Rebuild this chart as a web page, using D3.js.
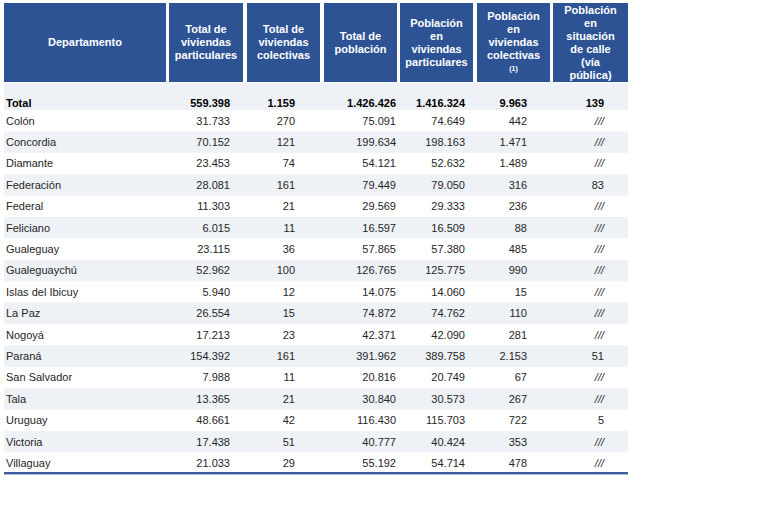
<!DOCTYPE html>
<html><head><meta charset="utf-8">
<script src="https://cdn.jsdelivr.net/npm/d3@7"></script>
<style>
html,body{margin:0;padding:0;background:#fff;}
svg{display:block;font-family:"Liberation Sans",Arial,sans-serif;}
</style></head>
<body>
<svg id="c" width="768" height="512"></svg>
<script>
const departamentos = ["Colón","Concordia","Diamante","Federación","Federal","Feliciano","Gualeguay","Gualeguaychú","Islas del Ibicuy","La Paz","Nogoyá","Paraná","San Salvador","Tala","Uruguay","Victoria","Villaguay"];
const viviendasParticulares = [31733,70152,23453,28081,11303,6015,23115,52962,5940,26554,17213,154392,7988,13365,48661,17438,21033];
const viviendasColectivas = [270,121,74,161,21,11,36,100,12,15,23,161,11,21,42,51,29];
const totalPoblacion = [75091,199634,54121,79449,29569,16597,57865,126765,14075,74872,42371,391962,20816,30840,116430,40777,55192];
const poblacionParticulares = [74649,198163,52632,79050,29333,16509,57380,125775,14060,74762,42090,389758,20749,30573,115703,40424,54714];
const poblacionColectivas = [442,1471,1489,316,236,88,485,990,15,110,281,2153,67,267,722,353,478];
const poblacionCalle = [null,null,null,83,null,null,null,null,null,null,null,51,null,null,5,null,null];
const totales = [559398,1159,1426426,1416324,9963,139];
const encabezados = [
  ["Departamento"],
  ["Total de","viviendas","particulares"],
  ["Total de","viviendas","colectivas"],
  ["Total de","población"],
  ["Población","en","viviendas","particulares"],
  ["Población","en","viviendas","colectivas","(1)"],
  ["Población","en","situación","de calle","(vía","pública)"]
];
const series = [viviendasParticulares,viviendasColectivas,totalPoblacion,poblacionParticulares,poblacionColectivas,poblacionCalle];

const svg = d3.select("#c");
const BLUE = "#2D5395", STRIPE = "#EEF1F6", TXT = "#262626";
const loc = d3.formatLocale({decimal:",", thousands:".", grouping:[3], currency:["$",""]});
const fmt = loc.format(",d");

// column geometry
const colLeft = [4,169,247,324,400,477,553];
const colRight = [166,243,320,397,473,550,628];
const numRight = [230,295,396,465,527,604];
const tableL = 4, tableR = 628;

// row scale
const y = d3.scaleBand().domain(d3.range(departamentos.length)).range([110, 110 + 17*21.4]).padding(0);

// header
const hdr = svg.append("g");
encabezados.forEach((lines, i) => {
  hdr.append("rect").attr("x", colLeft[i]).attr("y", 3).attr("width", colRight[i]-colLeft[i]).attr("height", 79).attr("fill", BLUE);
  const cx = (colLeft[i]+colRight[i])/2;
  const n = lines.length;
  const lh = 13;
  lines.forEach((t, k) => {
    const small = t === "(1)";
    hdr.append("text").attr("x", cx).attr("y", 42.5 + (k-(n-1)/2)*lh)
      .attr("dy", "0.35em").attr("text-anchor","middle")
      .attr("fill","#fff").attr("font-weight","bold")
      .attr("font-size", small ? 7 : 11).text(t);
  });
});

// total band
svg.append("rect").attr("x", tableL).attr("y", 82.5).attr("width", tableR-tableL).attr("height", 27.5).attr("fill", STRIPE);
svg.append("text").attr("x", 6).attr("y", 103).attr("dy","0.35em").attr("font-size",11).attr("font-weight","bold").attr("fill","#000").text("Total");
totales.forEach((v,j) => {
  svg.append("text").attr("x", numRight[j]).attr("y", 103).attr("dy","0.35em").attr("text-anchor","end")
    .attr("font-size",11).attr("font-weight","bold").attr("fill","#000").text(fmt(v));
});

// rows
const rows = svg.append("g").selectAll("g").data(departamentos).join("g")
  .attr("transform", (d,i) => `translate(0,${y(i)})`);
rows.filter((d,i) => i % 2 === 1).append("rect")
  .attr("x", tableL).attr("y", 0).attr("width", tableR-tableL).attr("height", y.bandwidth()).attr("fill", STRIPE);
rows.append("text").attr("x", 6).attr("y", y.bandwidth()/2).attr("dy","0.35em")
  .attr("font-size",11).attr("fill",TXT).text(d => d);
series.forEach((s, j) => {
  rows.append("text").attr("x", numRight[j]).attr("y", y.bandwidth()/2).attr("dy","0.35em")
    .attr("text-anchor","end").attr("font-size",11).attr("fill",TXT)
    .attr("font-style", (d,i) => s[i] == null ? "italic" : null)
    .text((d,i) => s[i] == null ? "///" : fmt(s[i]));
});

// bottom rule
const yb = y.range()[1];
svg.append("rect").attr("x", tableL).attr("y", yb-1.8).attr("width", tableR-tableL).attr("height", 2).attr("fill", "#3A5C9A");
svg.append("rect").attr("x", tableL).attr("y", yb+0.2).attr("width", tableR-tableL).attr("height", 1).attr("fill", "#A9BAD8");
</script>
</body></html>
